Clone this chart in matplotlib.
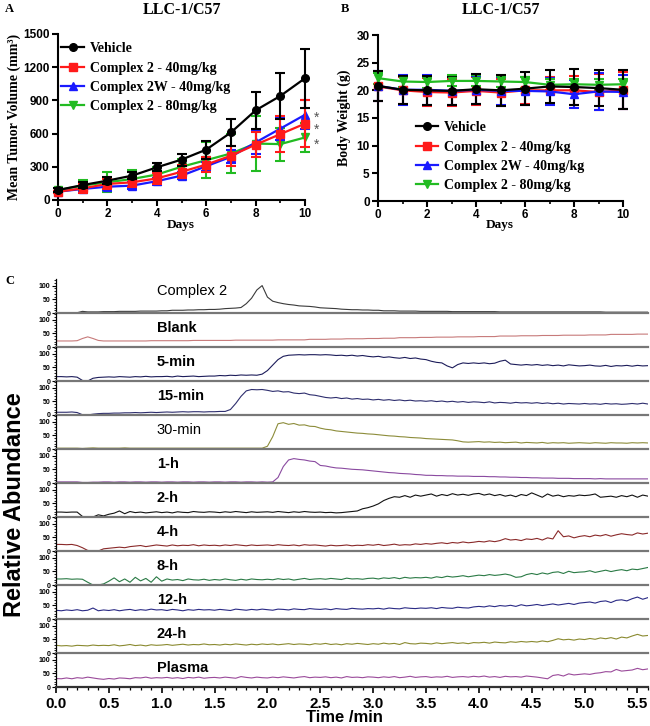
import numpy as np
import matplotlib
matplotlib.use("Agg")
import matplotlib.pyplot as plt
from matplotlib.lines import Line2D
from matplotlib.ticker import MultipleLocator
from matplotlib import font_manager

# ---------------- panel A / B data ----------------
days = [0, 1, 2, 3, 4, 5, 6, 7, 8, 9, 10]
group_names = ["Vehicle", "Complex 2 - 40mg/kg", "Complex 2W - 40mg/kg", "Complex 2 - 80mg/kg"]

tumor_vehicle = [90, 135, 175, 220, 295, 365, 455, 610, 810, 940, 1100]
tumor_vehicle_err = [15, 25, 30, 30, 35, 55, 80, 120, 170, 210, 265]
tumor_c2_40 = [75, 105, 145, 160, 195, 255, 320, 400, 500, 595, 690]
tumor_c2_40_err = [10, 40, 45, 40, 50, 60, 70, 90, 110, 160, 210]
tumor_c2w_40 = [75, 100, 120, 130, 170, 220, 305, 390, 520, 645, 770]
tumor_c2w_40_err = [10, 30, 30, 30, 30, 30, 40, 60, 100, 100, 130]
tumor_c2_80 = [90, 130, 160, 190, 230, 300, 360, 420, 510, 505, 565]
tumor_c2_80_err = [20, 50, 90, 80, 70, 70, 160, 180, 250, 150, 130]

weight_vehicle = [20.8, 20.1, 20.0, 19.9, 20.2, 20.0, 20.3, 20.7, 20.6, 20.4, 20.1]
weight_vehicle_err = [2.7, 2.5, 2.6, 2.6, 2.7, 2.8, 3.0, 3.0, 3.2, 3.2, 3.5]
weight_c2_40 = [20.7, 20.0, 19.7, 19.6, 19.9, 19.6, 20.0, 20.0, 20.0, 19.7, 20.0]
weight_c2_40_err = [2.7, 2.5, 2.5, 2.4, 2.5, 2.5, 2.5, 2.5, 2.6, 3.2, 3.4]
weight_c2w_40 = [20.8, 20.1, 20.1, 19.9, 20.1, 19.9, 19.9, 19.8, 19.3, 19.8, 19.7]
weight_c2w_40_err = [2.7, 2.7, 2.7, 2.5, 2.5, 2.5, 2.5, 2.5, 2.5, 3.3, 3.0]
weight_c2_80 = [22.2, 21.6, 21.5, 21.7, 21.7, 21.6, 21.5, 21.0, 21.1, 21.0, 21.1]
weight_c2_80_err = [1.0, 1.0, 1.0, 1.0, 1.0, 1.0, 1.0, 1.0, 1.0, 1.0, 1.0]

# ---------------- panel C data (relative abundance, every 0.05 min) ----------------
times = np.round(np.arange(113) * 0.05, 2)
strip_labels = ["Complex 2", "Blank", "5-min", "15-min", "30-min", "1-h",
                "2-h", "4-h", "8-h", "12-h", "24-h", "Plasma"]

tr_complex2 = [1, 1, 1, 1, 1, 6, 4, 4, 4, 5,
               5, 5, 6, 6, 6, 6, 7, 7, 7, 7,
               8, 8, 10, 10, 10, 11, 11, 12, 12, 13,
               13, 14, 16, 17, 18, 20, 34, 54, 84, 100,
               58, 43, 38, 34, 31, 29, 26, 25, 24, 22,
               19, 18, 17, 16, 14, 13, 12, 12, 11, 11,
               10, 10, 8, 8, 8, 7, 7, 7, 7, 6,
               6, 6, 6, 6, 6, 5, 5, 5, 5, 5,
               5, 5, 5, 5, 4, 4, 4, 4, 4, 4,
               4, 4, 4, 4, 4, 4, 4, 4, 4, 4,
               4, 4, 4, 4, 3, 3, 3, 3, 3, 3,
               3, 3, 3]
tr_blank = [22, 22, 22, 22, 23, 31, 37, 31, 24, 22,
            22, 22, 22, 22, 22, 22, 22, 22, 23, 23,
            23, 23, 23, 23, 23, 23, 24, 24, 24, 24,
            24, 24, 24, 24, 25, 25, 25, 25, 25, 25,
            25, 25, 26, 26, 26, 26, 26, 26, 28, 28,
            28, 28, 29, 29, 29, 30, 30, 30, 30, 31,
            31, 31, 32, 32, 32, 34, 34, 34, 34, 35,
            35, 35, 36, 36, 36, 36, 37, 37, 37, 37,
            38, 38, 38, 38, 40, 40, 40, 40, 41, 41,
            41, 41, 42, 42, 42, 42, 43, 43, 43, 43,
            43, 44, 44, 44, 44, 46, 46, 46, 46, 46,
            47, 47, 47]
tr_5min = [16, 16, 15, 16, 14, 2, 0, 10, 13, 14,
           15, 14, 16, 15, 14, 16, 15, 17, 15, 16,
           16, 17, 15, 18, 16, 17, 18, 16, 17, 18,
           18, 20, 19, 21, 20, 22, 21, 22, 21, 25,
           38, 58, 78, 90, 94, 95, 96, 95, 96, 96,
           95, 96, 95, 93, 94, 92, 94, 91, 93, 90,
           88, 90, 86, 88, 85, 83, 86, 82, 84, 80,
           78, 72, 68, 66, 55, 48, 60, 66, 64, 66,
           64, 66, 63, 65, 72, 76, 62, 60, 58, 60,
           58, 60, 57, 59, 56, 58, 55, 59, 57, 55,
           56, 58, 55, 54, 57, 53, 56, 55, 57, 54,
           57, 55, 56]
tr_15min = [10, 10, 10, 11, 9, 1, 0, 3, 5, 6,
            6, 7, 7, 8, 8, 9, 8, 9, 10, 9,
            10, 11, 10, 11, 12, 11, 12, 12, 11, 12,
            12, 13, 13, 20, 42, 68, 88, 93, 92, 93,
            90, 86, 88, 84, 85, 80, 78, 80, 74, 72,
            68, 64, 62, 64, 60, 62, 58, 60, 57, 58,
            55, 57, 54, 56, 53, 55, 52, 54, 51, 52,
            50, 52, 49, 51, 48, 50, 47, 49, 46, 48,
            47, 45, 48, 44, 46, 45, 43, 46, 44, 45,
            43, 45, 42, 44, 41, 43, 40, 42, 41, 40,
            42, 40, 41, 39, 42, 40, 41, 39, 40, 42,
            40, 43, 40]
tr_30min = [3, 3, 3, 3, 3, 2, 3, 4, 3, 3,
            3, 3, 3, 4, 3, 3, 3, 3, 3, 3,
            3, 3, 3, 3, 3, 3, 3, 3, 3, 3,
            3, 3, 3, 3, 3, 3, 3, 3, 3, 3,
            10, 45, 92, 96, 90, 93, 87, 88, 83, 82,
            76, 72, 70, 66, 64, 62, 60, 58, 57, 55,
            54, 52, 50, 48, 47, 45, 44, 42, 41, 40,
            38, 37, 36, 35, 34, 33, 30, 26, 25, 26,
            27, 25, 26, 24, 25, 23, 24, 25, 22, 24,
            23, 22, 24, 21, 23, 22, 23, 21, 22, 23,
            22, 21, 23, 22, 21, 23, 22, 22, 21, 23,
            22, 23, 22]
tr_1h = [4, 4, 4, 4, 4, 2, 2, 3, 3, 4,
         4, 3, 4, 4, 3, 4, 4, 3, 4, 4,
         3, 4, 4, 3, 4, 4, 3, 4, 4, 3,
         4, 4, 3, 4, 4, 3, 4, 4, 3, 4,
         3, 4, 20, 60, 84, 89, 86, 84, 80, 78,
         64, 62, 58, 55, 54, 52, 50, 49, 48, 46,
         44, 42, 40, 38, 37, 35, 34, 33, 31, 30,
         28, 28, 27, 27, 26, 26, 25, 25, 25, 24,
         24, 24, 23, 23, 22, 22, 21, 21, 20, 20,
         19, 19, 18, 18, 18, 17, 17, 17, 16, 16,
         16, 16, 15, 16, 15, 15, 15, 15, 15, 15,
         15, 15, 15]
tr_2h = [18, 18, 17, 18, 18, 2, 0, 0, 8, 4,
         10, 14, 22, 12, 20, 16, 18, 15, 17, 19,
         16, 18, 15, 19, 17, 16, 20, 18, 17, 19,
         18, 16, 19, 17, 20, 18, 16, 19, 17, 18,
         19, 17, 20, 18, 16, 19, 17, 20, 18, 17,
         18, 16, 17, 15, 16, 18, 20, 22, 30, 34,
         40, 48, 60, 68, 74, 72, 78, 72, 80, 76,
         80, 84, 76, 82, 78, 85, 80, 83, 79, 84,
         86, 80, 84, 78, 82, 76, 80, 74, 82, 78,
         88, 80, 72, 84, 76, 80, 74, 78, 76, 80,
         78, 80, 84, 72, 74, 76, 72, 78, 74, 80,
         72, 80, 76]
tr_4h = [24, 24, 23, 24, 20, 12, 2, 0, 0, 8,
         10, 12, 14, 12, 16, 18, 20, 16, 19, 22,
         20, 18, 22, 19, 21, 20, 23, 19, 22, 20,
         21, 19, 22, 20, 23, 21, 19, 22, 20, 21,
         22, 20, 23, 21, 20, 22, 19, 23, 21, 22,
         20, 18, 21, 19, 20, 22, 19, 21, 20, 23,
         21, 24, 20, 22, 25, 21, 23, 22, 26, 24,
         27, 25, 28, 30, 27, 31, 29, 33, 30, 32,
         35, 33, 37, 34, 38, 45, 40, 42, 38, 44,
         42, 46, 40, 48, 44, 74, 52, 55, 48, 53,
         56, 52, 58, 55, 60, 54, 59, 63, 60, 58,
         66, 62, 65]
tr_8h = [22, 22, 23, 21, 22, 21, 10, 0, 0, 4,
         14, 26, 12, 22, 10, 28, 15, 24, 10, 30,
         14, 22, 18, 20, 16, 22, 19, 18, 21, 17,
         20, 18, 22, 19, 17, 21, 18, 22, 20, 19,
         21, 19, 23, 20, 22, 18, 21, 24, 20, 22,
         23, 21, 24, 22, 20, 25, 22, 23, 21, 24,
         25, 22, 26, 24, 27, 23, 28, 25, 27, 26,
         28, 25, 30, 27, 32, 29, 31, 34, 30, 33,
         36, 34, 38, 35, 37, 40, 36, 28, 30, 38,
         42, 38, 44, 40, 46, 48, 42, 50, 45, 47,
         48, 52, 46, 50, 54, 49, 53, 56, 52, 58,
         56, 60, 64]
tr_12h = [32, 30, 33, 31, 34, 30, 32, 40, 30, 33,
          31, 34, 30, 33, 35, 31, 34, 32, 36, 33,
          34, 31, 35, 33, 30, 34, 32, 35, 33, 34,
          32, 35, 33, 31, 36, 34, 32, 35, 33, 36,
          34, 32, 36, 35, 33, 37, 35, 34, 38, 36,
          35, 37, 34, 38, 36, 35, 39, 37, 36, 38,
          37, 39, 36, 40, 38, 37, 41, 39, 38, 40,
          39, 41, 38, 42, 40, 39, 43, 41, 40, 44,
          46, 44, 48, 45, 49, 47, 50, 46, 52, 48,
          50, 53, 49, 52, 55, 51, 54, 57, 53, 58,
          60, 62, 58, 64, 66, 60, 68, 70, 66, 74,
          80, 72, 78]
tr_24h = [28, 26, 27, 25, 28, 27, 26, 29, 27, 28,
          27, 30, 26, 28, 31, 27, 29, 26, 30, 28,
          29, 31, 28, 30, 32, 29, 31, 30, 33, 30,
          31, 29, 32, 30, 33, 31, 29, 32, 30, 33,
          31, 33, 30, 32, 34, 31, 33, 32, 30, 34,
          32, 35, 31, 33, 30, 34, 32, 35, 33, 31,
          34, 32, 36, 33, 35, 31, 38, 34, 33, 36,
          35, 33, 37, 34, 36, 38, 35, 37, 34, 38,
          37, 39, 36, 40, 38, 37, 41, 39, 42, 40,
          42, 40, 44, 41, 46, 52, 48, 50, 47, 51,
          49, 53, 50, 55, 52, 56, 51, 58, 55, 62,
          68, 62, 64]
tr_plasma = [31, 30, 33, 30, 34, 32, 36, 33, 30, 28,
             31, 29, 33, 32, 30, 34, 33, 36, 32, 34,
             33, 35, 32, 34, 31, 35, 33, 36, 32, 34,
             35, 33, 36, 34, 32, 38, 35, 33, 36, 34,
             33, 36, 34, 37, 35, 33, 36, 38, 34, 36,
             35, 37, 34, 36, 33, 38, 35, 36, 34, 37,
             36, 34, 37, 35, 38, 34, 36, 39, 35, 37,
             38, 35, 37, 36, 39, 35, 37, 38, 36, 39,
             37, 40, 36, 38, 35, 39, 37, 38, 36, 40,
             38, 36, 33, 30, 42, 45, 40, 48, 44, 46,
             48, 46, 50, 52, 56, 55, 64, 58, 60, 62,
             68, 63, 66]

traces = [tr_complex2, tr_blank, tr_5min, tr_15min, tr_30min, tr_1h,
          tr_2h, tr_4h, tr_8h, tr_12h, tr_24h, tr_plasma]
trace_colors = ["#3a3a3a", "#c77a7a", "#1c1c5a", "#2e2e6e", "#8c8c3a", "#8a4aa0",
                "#111111", "#8a2a2a", "#2a7a45", "#2a2a85", "#8a8a30", "#9a4a9a"]
label_bold = [False, True, True, True, False, True, True, True, True, True, True, True]

time_ticks = [0.0, 0.5, 1.0, 1.5, 2.0, 2.5, 3.0, 3.5, 4.0, 4.5, 5.0, 5.5]
time_tick_labels = ["0.0", "0.5", "1.0", "1.5", "2.0", "2.5", "3.0", "3.5", "4.0", "4.5", "5.0", "5.5"]


def pick_font(names):
    for n in names:
        try:
            font_manager.findfont(font_manager.FontProperties(family=n), fallback_to_default=False)
            return n
        except ValueError:
            pass
    return "DejaVu Sans"


SERIF = pick_font(["Liberation Serif", "DejaVu Serif"])
SANS = pick_font(["Liberation Sans", "DejaVu Sans"])

W, H = 650, 726
fig = plt.figure(figsize=(W / 100, H / 100), dpi=100)


def px_axes(x0, y0, x1, y1):
    # pixel box measured from the top-left corner
    return fig.add_axes([x0 / W, 1 - y1 / H, (x1 - x0) / W, (y1 - y0) / H])


def style_growth_axes(ax, ymax, ystep):
    for s in ["top", "right"]:
        ax.spines[s].set_visible(False)
    for s in ["left", "bottom"]:
        ax.spines[s].set_linewidth(1.5)
    ax.set_xlim(0, 10)
    ax.set_ylim(0, ymax)
    ax.set_xticks([0, 2, 4, 6, 8, 10])
    ax.xaxis.set_minor_locator(MultipleLocator(1))
    ax.set_yticks(np.arange(0, ymax + 1, ystep))
    ax.tick_params(which="major", length=4, width=1.5, labelsize=8.5, pad=2)
    ax.tick_params(which="minor", length=2.5, width=1.2)
    for lab in ax.get_xticklabels() + ax.get_yticklabels():
        lab.set_fontfamily(SANS)
        lab.set_fontweight("bold")


colors = ["black", "#ff1a1a", "#1a1aff", "#22bb22"]
markers = ["o", "s", "^", "v"]
legend_font = font_manager.FontProperties(family=SERIF, weight="bold", size=10)

# ---------------- panel A ----------------
axA = px_axes(58, 34, 305, 200)
tumor = [(tumor_vehicle, tumor_vehicle_err), (tumor_c2_40, tumor_c2_40_err),
         (tumor_c2w_40, tumor_c2w_40_err), (tumor_c2_80, tumor_c2_80_err)]
for i in [3, 2, 1, 0]:
    y, e = tumor[i]
    axA.errorbar(days, y, yerr=e, color=colors[i], marker=markers[i], ms=5.5,
                 lw=1.6, elinewidth=1.5, capsize=3.5, capthick=1.5, clip_on=False, zorder=3 + (3 - i))
style_growth_axes(axA, 1500, 300)
# significance marks next to the day-10 points (two stacked, one lower)
axA.text(10.45, 596, "*\n*", color="#555555", fontsize=10, fontfamily=SANS, linespacing=0.85,
         ha="center", va="baseline", clip_on=False)
axA.text(10.45, 461, "*", color="#555555", fontsize=10, fontfamily=SANS,
         ha="center", va="baseline", clip_on=False)
handles = [Line2D([], [], color=colors[i], marker=markers[i], ms=5.5, lw=1.6) for i in range(4)]
axA.legend(handles, group_names, loc="upper left", bbox_to_anchor=(-0.02, 1.0), frameon=False,
           handlelength=1.6, handletextpad=0.45, labelspacing=0.45, borderaxespad=0.2,
           prop=legend_font)
fig.text(14 / W, 1 - 117 / H, "Mean Tumor Volume (mm³)", rotation=90, ha="center", va="center",
         fontfamily=SERIF, fontweight="bold", fontsize=10)
fig.text(181 / W, 1 - 225 / H, "Days", ha="center", va="center",
         fontfamily=SERIF, fontweight="bold", fontsize=9.5)
fig.text(182 / W, 1 - 10 / H, "LLC-1/C57", ha="center", va="center",
         fontfamily=SERIF, fontweight="bold", fontsize=11.5)
fig.text(9 / W, 1 - 9 / H, "A", ha="center", va="center",
         fontfamily=SERIF, fontweight="bold", fontsize=9)

# ---------------- panel B ----------------
axB = px_axes(378, 35, 623, 201)
weight = [(weight_vehicle, weight_vehicle_err), (weight_c2_40, weight_c2_40_err),
          (weight_c2w_40, weight_c2w_40_err), (weight_c2_80, weight_c2_80_err)]
for i in [1, 2, 3, 0]:
    y, e = weight[i]
    axB.errorbar(days, y, yerr=e, color=colors[i], marker=markers[i], ms=5.5,
                 lw=1.6, elinewidth=1.5, capsize=3.5, capthick=1.5, clip_on=False, zorder=3)
style_growth_axes(axB, 30, 5)
axB.legend(handles, group_names, loc="upper left", bbox_to_anchor=(0.12, 0.53), frameon=False,
           handlelength=1.6, handletextpad=0.45, labelspacing=0.45, borderaxespad=0.2,
           prop=legend_font)
fig.text(344 / W, 1 - 118 / H, "Body Weight (g)", rotation=90, ha="center", va="center",
         fontfamily=SERIF, fontweight="bold", fontsize=10)
fig.text(500 / W, 1 - 225 / H, "Days", ha="center", va="center",
         fontfamily=SERIF, fontweight="bold", fontsize=9.5)
fig.text(501 / W, 1 - 10 / H, "LLC-1/C57", ha="center", va="center",
         fontfamily=SERIF, fontweight="bold", fontsize=11.5)
fig.text(345 / W, 1 - 9 / H, "B", ha="center", va="center",
         fontfamily=SERIF, fontweight="bold", fontsize=9)

# ---------------- panel C ----------------
fig.text(10 / W, 1 - 281 / H, "C", ha="center", va="center",
         fontfamily=SERIF, fontweight="bold", fontsize=9)
n = len(traces)
for k in range(n):
    base = 313 + 34 * k
    ax = px_axes(56, base - 34, 648, base)
    ax.plot(times, traces[k], color=trace_colors[k], lw=0.8)
    ax.set_xlim(0, 5.6)
    ax.set_ylim(0, 124)
    ax.patch.set_alpha(0)
    for s in ["top", "right"]:
        ax.spines[s].set_visible(False)
    ax.spines["left"].set_linewidth(0.9)
    ax.spines["bottom"].set_linewidth(1.6)
    ax.spines["bottom"].set_color("#777777" if k < n - 1 else "#333333")
    ax.set_yticks([0, 50, 100])
    ax.yaxis.set_minor_locator(MultipleLocator(10))
    ax.tick_params(axis="y", which="major", length=3, width=0.8, labelsize=5, pad=1)
    ax.tick_params(axis="y", which="minor", length=1.8, width=0.6)
    for lab in ax.get_yticklabels():
        lab.set_fontfamily(SANS)
        lab.set_fontweight("bold")
    ax.text(0.955, 80 if k == 0 else 68, strip_labels[k], ha="left", va="center",
            fontfamily=SANS, fontweight="bold" if label_bold[k] else "normal", fontsize=10.5)
    if k < n - 1:
        ax.set_xticks([])
    else:
        ax.set_xticks(time_ticks)
        ax.set_xticklabels(time_tick_labels)
        ax.xaxis.set_minor_locator(MultipleLocator(0.1))
        ax.tick_params(axis="x", which="major", length=4, width=1.2, labelsize=11, pad=3)
        ax.tick_params(axis="x", which="minor", length=2, width=0.9)
        for lab in ax.get_xticklabels():
            lab.set_fontfamily(SANS)
            lab.set_fontweight("bold")

fig.text(344 / W, 1 - 717 / H, "Time /min", ha="center", va="center",
         fontfamily=SANS, fontweight="bold", fontsize=12)
fig.text(15 / W, 1 - 505 / H, "Relative Abundance", rotation=90, ha="center", va="center",
         fontfamily=SANS, fontweight="bold", fontsize=17)

fig.savefig("out.png", dpi=100)
